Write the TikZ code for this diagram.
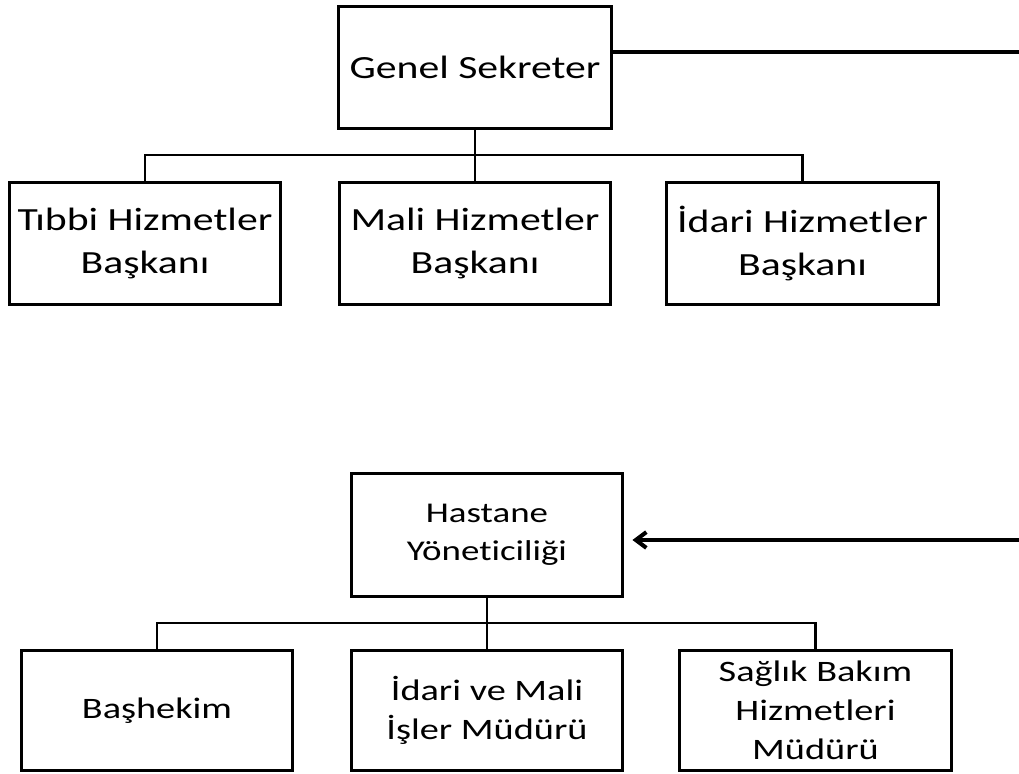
\documentclass[tikz,border=0pt]{standalone}
\usepackage{fontspec}
\setmainfont{Carlito}[FakeStretch=1.29, Ligatures=NoCommon]
\usetikzlibrary{arrows.meta}

\begin{document}
\begin{tikzpicture}[x=0.02cm, y=-0.02cm,
  unitbox/.style={draw, line width=1.7pt, align=center, inner sep=0pt,
    minimum width=5.44cm, minimum height=2.46cm},
  bigtext/.style={font=\fontsize{18.4}{24.4}\selectfont},
  midtext/.style={font=\fontsize{16.9}{22.1}\selectfont},
  smalltext/.style={font=\fontsize{16.3}{21.5}\selectfont},
  branch/.style={line width=1.4pt},
  link/.style={line width=2.3pt}]

\useasboundingbox (0,0) rectangle (1019,774);

% Upper chart
\node[unitbox, bigtext, minimum width=5.48cm] (gs) at (475, 67.5) {Genel Sekreter};

\node[unitbox, bigtext] (tibbi) at (145, 243.5) {Tıbbi Hizmetler\\Başkanı};
\node[unitbox, bigtext] (mali) at (475, 243.5) {Mali Hizmetler\\Başkanı};
\node[unitbox, bigtext] (idari) at (802.5, 243.5) {İdari Hizmetler\\Başkanı};

\coordinate (topbus) at (0, 155);
\draw[branch] (gs.south) -- (mali.north);
\draw[branch] (tibbi.north) -- (tibbi.north |- topbus) -- (idari.north |- topbus) -- (idari.north);

% Lower chart
\node[unitbox, smalltext, minimum height=2.48cm] (hy) at (487, 535) {Hastane\\Yöneticiliği};

\node[unitbox, midtext, minimum height=2.42cm] (bas) at (157, 710.5) {Başhekim};
\node[unitbox, midtext, minimum height=2.42cm] (iml) at (487, 710.5) {İdari ve Mali\\İşler Müdürü};
\node[unitbox, midtext, minimum height=2.42cm] (sbh) at (815.5, 710.5) {Sağlık Bakım\\Hizmetleri\\Müdürü};

\coordinate (lowbus) at (0, 623);
\draw[branch] (hy.south) -- (iml.north);
\draw[branch] (bas.north) -- (bas.north |- lowbus) -- (sbh.north |- lowbus) -- (sbh.north);

% Lines off to the right
\coordinate (outtop) at (1019, 52);
\coordinate (outlow) at (1019, 540);
\draw[link] (gs.east |- outtop) -- (outtop);
\draw[link, -{Straight Barb[length=6pt, width=9pt]}] (outlow) -- ([xshift=0.16cm]hy.east |- outlow);

\end{tikzpicture}
\end{document}
